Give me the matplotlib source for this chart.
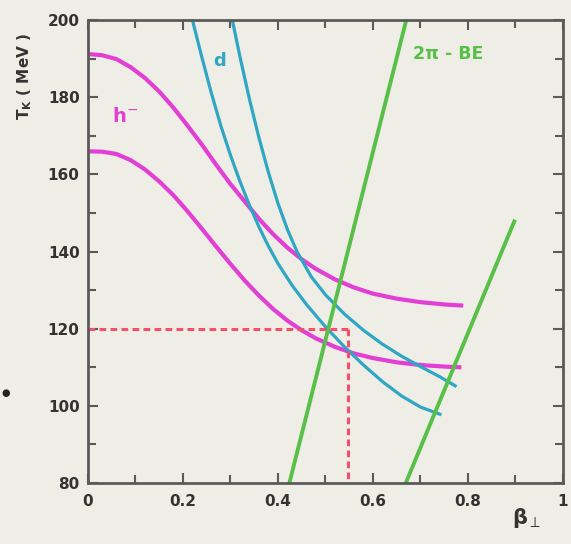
import matplotlib
matplotlib.use("Agg")
from matplotlib import pyplot as plt
from matplotlib.ticker import MultipleLocator

# h- curves (upper and lower)
h_up_x = [0, 0.03, 0.06, 0.09, 0.12, 0.15, 0.18, 0.21, 0.24, 0.27, 0.30, 0.33,
          0.36, 0.39, 0.42, 0.45, 0.48, 0.52, 0.56, 0.60, 0.65, 0.70, 0.75, 0.79]
h_up_y = [191.2, 190.9, 189.9, 187.8, 185.0, 181.5, 177.3, 172.6, 167.7, 162.5, 157.5, 153.0,
          148.5, 144.5, 141.0, 138.0, 135.5, 132.8, 130.7, 129.1, 127.8, 126.9, 126.3, 126.0]
h_lo_x = [0, 0.03, 0.06, 0.09, 0.12, 0.15, 0.18, 0.21, 0.24, 0.27, 0.30, 0.33,
          0.36, 0.39, 0.42, 0.45, 0.48, 0.52, 0.56, 0.60, 0.65, 0.70, 0.75, 0.786]
h_lo_y = [166.0, 165.9, 165.3, 163.7, 161.3, 158.2, 154.6, 150.4, 145.9, 141.3, 136.8, 132.5,
          128.6, 125.1, 122.1, 119.6, 117.5, 115.3, 113.6, 112.4, 111.3, 110.6, 110.2, 110.0]

# deuteron curves
d_left_x = [0.22, 0.24, 0.26, 0.28, 0.30, 0.32, 0.34, 0.36, 0.38, 0.40,
            0.43, 0.46, 0.50, 0.54, 0.58, 0.62, 0.66, 0.70, 0.744]
d_left_y = [200, 190.3, 181.0, 172.5, 165.0, 158.2, 152.0, 146.4, 141.4, 136.9,
            131.2, 126.3, 120.5, 115.3, 110.6, 106.3, 102.6, 99.7, 97.7]
d_right_x = [0.304, 0.32, 0.34, 0.36, 0.38, 0.40, 0.42, 0.44, 0.47, 0.50,
             0.54, 0.58, 0.62, 0.66, 0.70, 0.74, 0.776]
d_right_y = [200, 190.5, 179.5, 169.5, 160.5, 152.5, 145.7, 140.0, 133.5, 128.8,
             123.8, 119.6, 116.0, 112.9, 110.2, 107.6, 105.0]

# 2pi - BE lines
be_left_x = [0.424, 0.67]
be_left_y = [80, 200]
be_right_x = [0.669, 0.899]
be_right_y = [80, 148.3]

# chosen point
t_sel = 120
beta_sel = 0.547

bg = '#efeee6'
pink = '#e23fd4'
cyan = '#2ea6c4'
green = '#58bf48'
red = '#f2506c'

fig = plt.figure(figsize=(5.71, 5.44), dpi=100, facecolor=bg)
ax = fig.add_axes([0.154, 0.112, 0.832, 0.851], facecolor=bg)

kw = dict(solid_joinstyle='round', solid_capstyle='butt')
ax.plot(h_up_x, h_up_y, color=pink, lw=3.0, **kw)
ax.plot(h_lo_x, h_lo_y, color=pink, lw=3.0, **kw)
ax.plot(d_left_x, d_left_y, color=cyan, lw=2.3, **kw)
ax.plot(d_right_x, d_right_y, color=cyan, lw=2.3, **kw)
ax.plot(be_left_x, be_left_y, color=green, lw=2.8, **kw)
ax.plot(be_right_x, be_right_y, color=green, lw=2.8, **kw)

ax.plot([0, beta_sel], [t_sel, t_sel], color=red, lw=2.2, ls=(0, (2.2, 1.4)))
ax.plot([beta_sel, beta_sel], [t_sel, 80], color=red, lw=2.2, ls=(0, (2.2, 1.4)))

ax.text(0.078, 175, r'h$^{-}$', color=pink, fontsize=14, fontweight='bold',
        ha='center', va='center')
ax.text(0.277, 189.4, 'd', color=cyan, fontsize=13, fontweight='bold',
        ha='center', va='center')
ax.text(0.758, 191.2, '2π - BE', color=green, fontsize=12.5, fontweight='bold',
        ha='center', va='center')

ax.set_xlim(0, 1)
ax.set_ylim(80, 200)
ax.xaxis.set_minor_locator(MultipleLocator(0.1))
ax.yaxis.set_major_locator(MultipleLocator(20))
ax.yaxis.set_minor_locator(MultipleLocator(10))
ax.set_xticks([0, 0.2, 0.4, 0.6, 0.8, 1.0])
ax.set_xticklabels(['0', '0.2', '0.4', '0.6', '0.8', '1'])

for s in ax.spines.values():
    s.set_color('#5a5a5a')
    s.set_linewidth(2)
ax.tick_params(which='both', direction='in', top=True, right=True,
               color='#5a5a5a', width=1.5, labelcolor='#333333')
ax.tick_params(which='major', length=7, labelsize=11)
ax.tick_params(which='minor', length=6)
ax.tick_params(axis='y', pad=6)
ax.tick_params(axis='x', pad=8)
for lab in ax.get_xticklabels() + ax.get_yticklabels():
    lab.set_fontweight('bold')

fig.text(25 / 571, 1 - 76 / 544, r'T$_{\mathbf{K}}$ ( MeV )', rotation=90,
         fontsize=11, fontweight='bold', color='#333333', ha='center', va='center')
fig.text(527 / 571, 1 - 518 / 544, r'$\mathbf{\beta}_{\perp}$', fontsize=15,
         color='#333333', ha='center', va='center')
fig.text(6 / 571, 1 - 393 / 544, '●', fontsize=7, color='#222222',
         ha='center', va='center')

fig.savefig('out.png', dpi=100, facecolor=bg)
